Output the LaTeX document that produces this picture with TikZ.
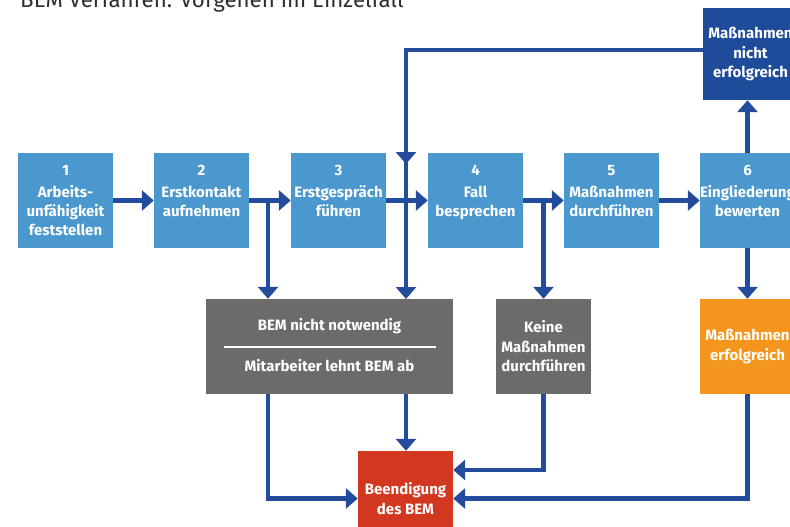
\documentclass[tikz,border=0pt]{standalone}
\usepackage{fontspec}
\setmainfont{Fira Sans}
\usetikzlibrary{arrows.meta}
\definecolor{lblue}{HTML}{4A98CD}
\definecolor{dblue}{HTML}{1F4B9B}
\definecolor{ablue}{HTML}{244C9C}
\definecolor{bgray}{HTML}{6D6A6A}
\definecolor{borange}{HTML}{F4961D}
\definecolor{bred}{HTML}{D2381F}
\definecolor{tgray}{HTML}{2E2E2E}
\tikzset{
  box/.style={rectangle, minimum width=95pt, minimum height=95pt, inner sep=0pt, fill=lblue, text=white, font=\bfseries\fontsize{15}{19.5}\selectfont, align=center},
  boxtxt/.style={anchor=north, inner sep=0pt, yshift=-12pt, text=white, font=\bfseries\fontsize{15}{19}\selectfont, align=center},
  txt/.style={text=white, font=\bfseries\fontsize{15}{19}\selectfont, align=center, inner sep=0pt},
  ar/.style={draw=ablue, line width=4.5pt, -{Triangle[width=20pt,length=12pt]}},
}
\begin{document}
\begin{tikzpicture}[x=1pt,y=-1pt]
\useasboundingbox (0,0) rectangle (790,527);
\node[anchor=base west, inner sep=0pt, font=\fontsize{22.3}{24}\selectfont, text=tgray] (title) at (20,7.5) {BEM Verfahren: Vorgehen im Einzelfall};

\node[box, label={[boxtxt]north:{1\\[3pt]Arbeits-\\unfähigkeit\\feststellen}}] (b1) at (65.5,200.5) {};
\node[box, label={[boxtxt]north:{2\\[3pt]Erstkontakt\\aufnehmen}}] (b2) at (201.5,200.5) {};
\node[box, label={[boxtxt]north:{3\\[3pt]Erstgespräch\\führen}}] (b3) at (338.5,200.5) {};
\node[box, label={[boxtxt]north:{4\\[3pt]Fall\\besprechen}}] (b4) at (475.5,200.5) {};
\node[box, label={[boxtxt]north:{5\\[3pt]Maßnahmen\\durchführen}}] (b5) at (611.5,200.5) {};
\node[box, label={[boxtxt]north:{6\\[3pt]Eingliederung\\bewerten}}] (b6) at (747.5,200.5) {};

\node[box, fill=dblue, minimum height=92pt] (top) at (750.5,54) {Maßnahmen\\nicht\\erfolgreich};
\node[box, fill=bgray, minimum width=247pt] (g1) at (329.5,346.5) {};
\node[txt] (g1a) at (329.5,326) {BEM nicht notwendig};
\node[txt] (g1b) at (329.5,366) {Mitarbeiter lehnt BEM ab};
\draw[white, line width=2pt] (224,347) -- (436,347);
\node[box, fill=bgray] (keine) at (543.5,346.5) {Keine\\Maßnahmen\\durchführen};
\node[box, fill=borange] (ok) at (747.5,346.5) {Maßnahmen\\erfolgreich};
\node[box, fill=bred] (red) at (405.5,498.5) {Beendigung\\des BEM};

\draw[ar] (b1.east) -- (b2.west);
\draw[ar] (b2.east) -- (b3.west);
\draw[ar] (b3.east) -- (b4.west);
\draw[ar] (b4.east) -- (b5.west);
\draw[ar] (b5.east) -- (b6.west);
\draw[ar] (b6.north) -- (b6.north |- top.south);
\draw[ar] (b6.south) -- (ok.north);

\coordinate (j23) at (268,200.5);
\draw[ar] (j23) -- (j23 |- g1.north);
\coordinate (j45) at (543.5,200.5);
\draw[ar] (j45) -- (keine.north);

\coordinate (loop) at (406,50);
\draw[ar] (top.west |- loop) -- (loop) -- (406,164);
\draw[ar] (406,160) -- (406,299);

\draw[ar] (g1.south -| j23) |- (red.west);
\draw[ar] (g1.south -| loop) -- (red.north -| loop);
\draw[ar] (keine.south) |- (red.east |- 0,470);
\draw[ar] (ok.south) |- (red.east);
\end{tikzpicture}
\end{document}
